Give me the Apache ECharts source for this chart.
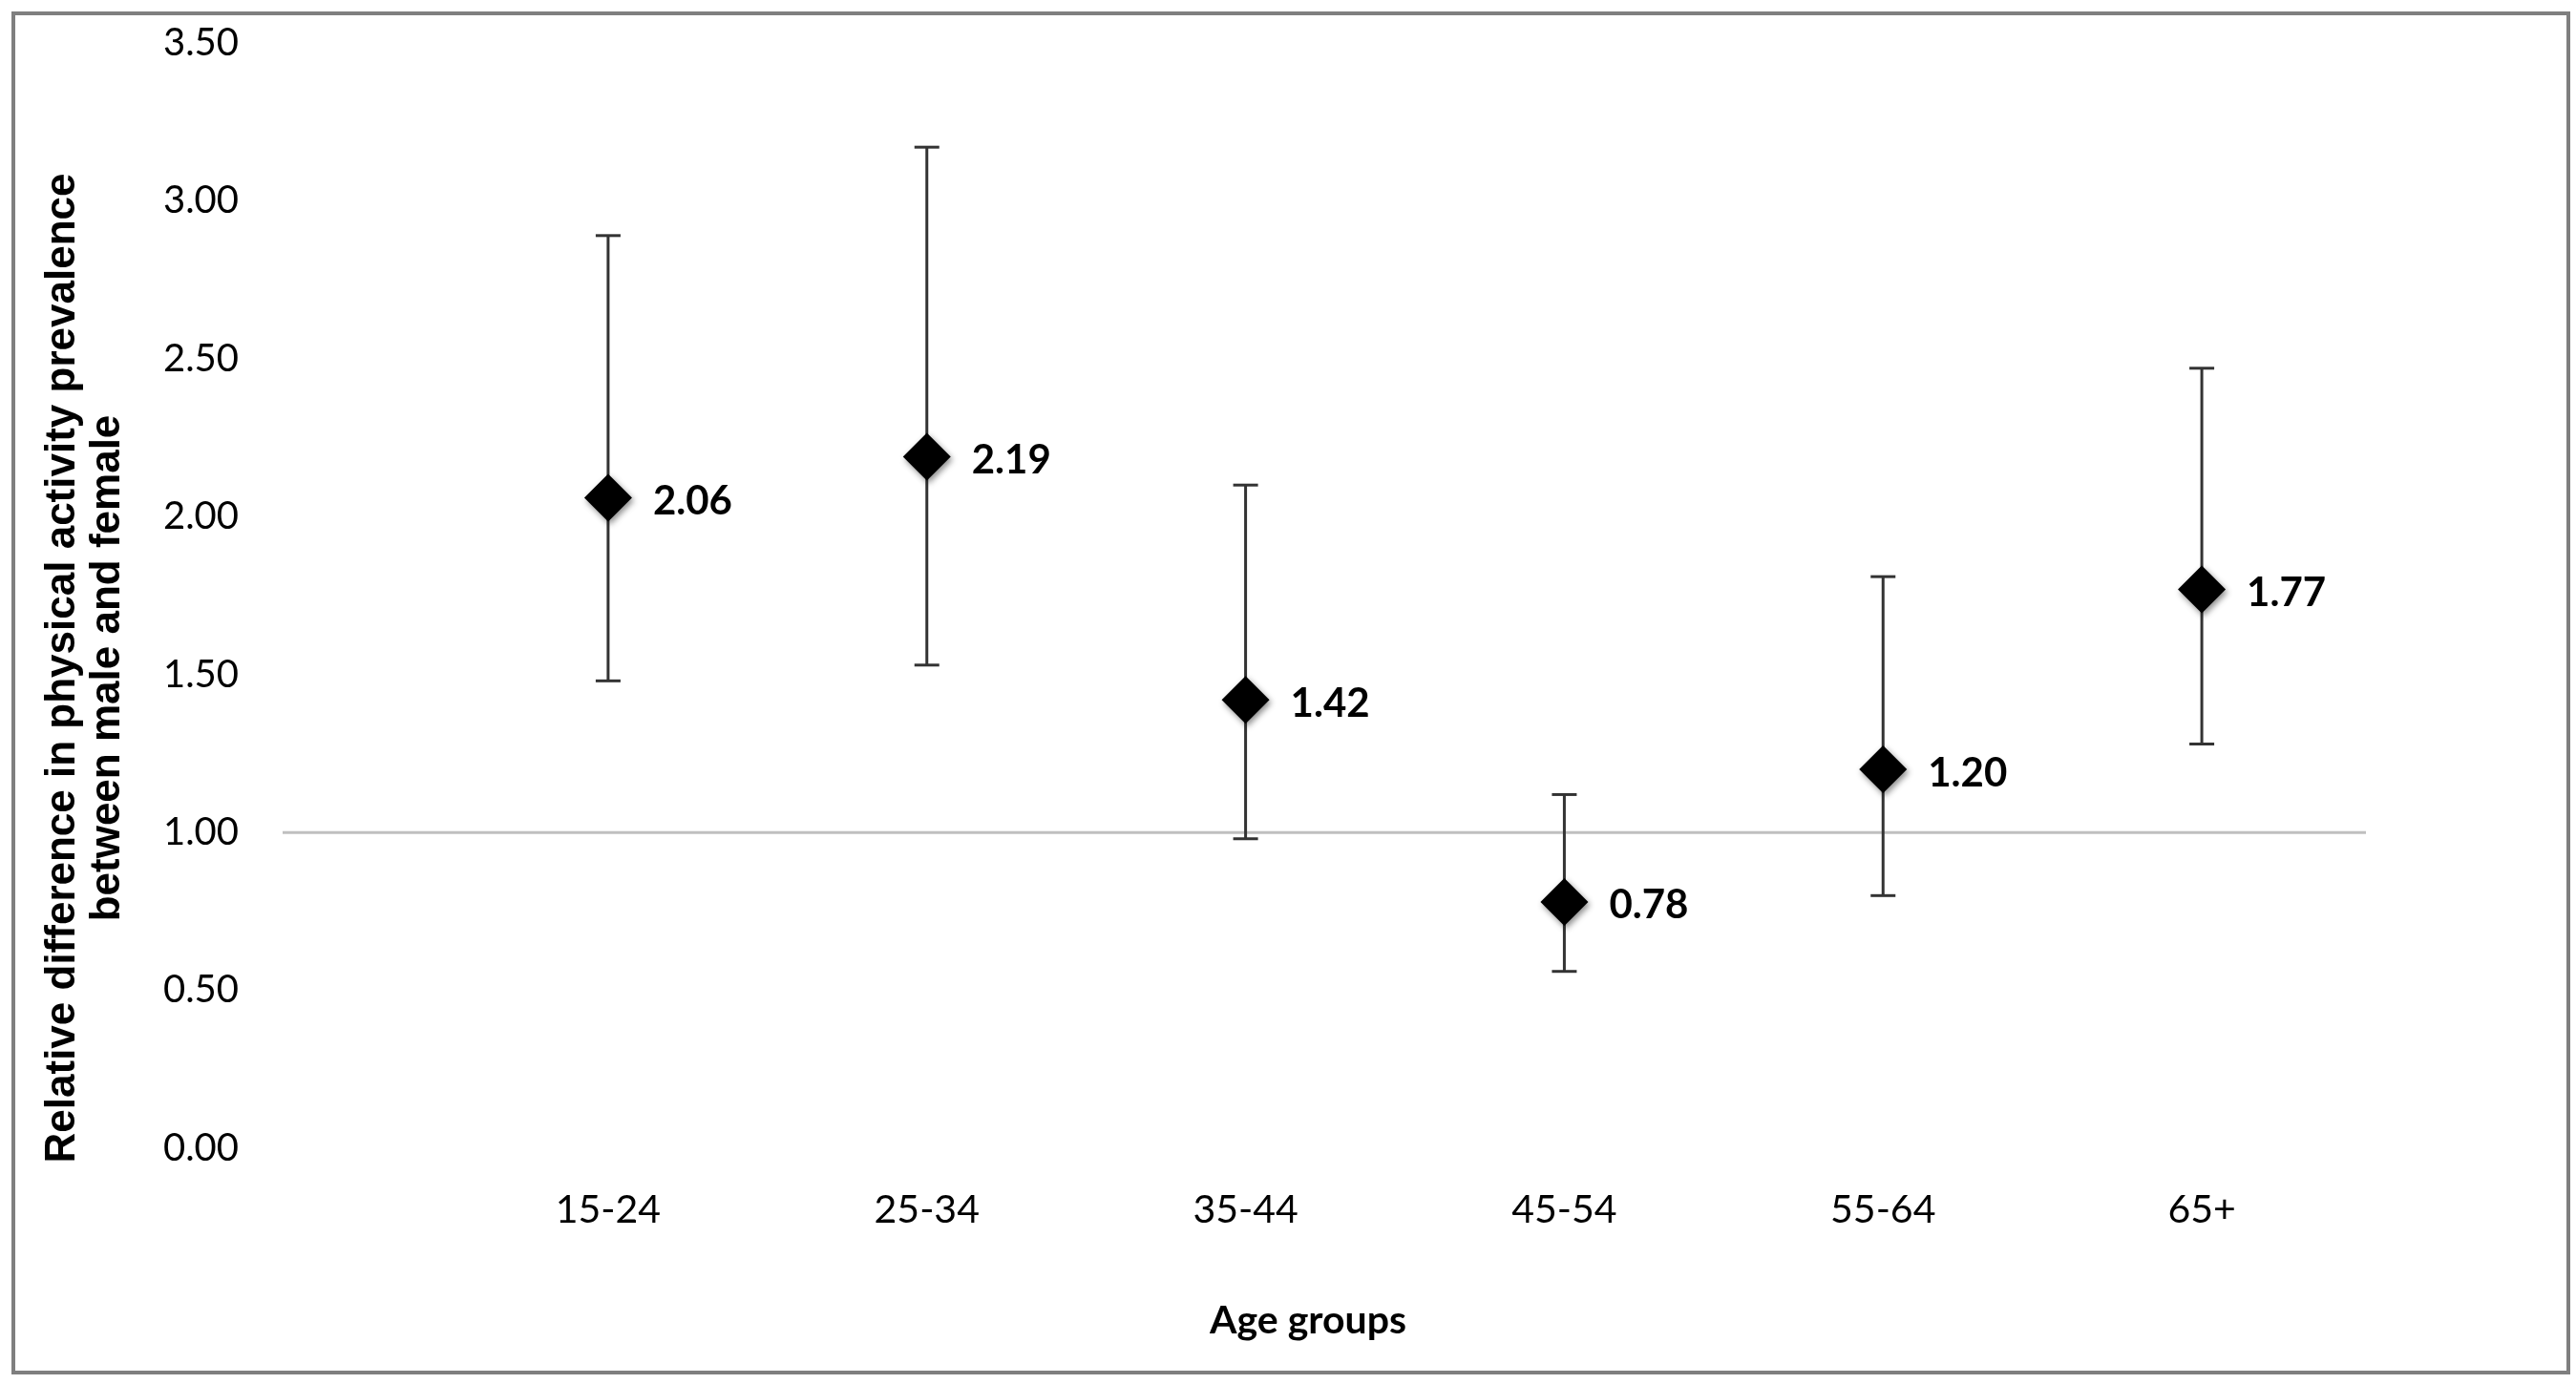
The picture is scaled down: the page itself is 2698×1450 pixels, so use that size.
<!DOCTYPE html>
<html>
<head>
<meta charset="utf-8">
<script src="https://cdn.jsdelivr.net/npm/echarts@6/dist/echarts.min.js"></script>
<style>
    html, body { margin: 0; padding: 0; background: #fff; }
    #main { width: 2698px; height: 1450px; }
</style>
</head>
<body>
<div id="main"></div>
<script>
    // age groups and ratio estimates (male vs female) with 95% CI
    var ageGroups = ['15-24', '25-34', '35-44', '45-54', '55-64', '65+'];
    var ratios = [2.06, 2.19, 1.42, 0.78, 1.20, 1.77];
    var lowerCI = [1.48, 1.53, 0.98, 0.56, 0.80, 1.28];
    var upperCI = [2.89, 3.17, 2.10, 1.12, 1.81, 2.47];
    var refValue = 1;

    var chart = echarts.init(document.getElementById('main'));

    var errorData = ageGroups.map(function (g, i) {
        return [i, lowerCI[i], upperCI[i]];
    });

    var labelFont = 'Lato, "Open Sans", sans-serif';

    var option = {
        backgroundColor: '#fff',
        animation: false,
        graphic: [{
            type: 'rect',
            shape: { x: 14, y: 14, width: 2676, height: 1424 },
            style: { fill: 'none', stroke: '#7f7f7f', lineWidth: 4 },
            silent: true
        }],
        grid: [
            { left: 470, right: 225, top: 45, bottom: 247 },
            { left: 296, right: 220, top: 45, bottom: 247 }
        ],
        xAxis: [
            {
                type: 'category',
                gridIndex: 0,
                data: ageGroups,
                axisLine: { show: false },
                axisTick: { show: false },
                splitLine: { show: false },
                axisLabel: { fontSize: 41, color: '#000', margin: 44, fontFamily: labelFont }
            },
            {
                type: 'value',
                gridIndex: 1,
                min: 0,
                max: 1,
                axisLine: { show: false },
                axisTick: { show: false },
                splitLine: { show: false },
                axisLabel: { show: false },
                name: 'Age groups',
                nameLocation: 'middle',
                nameGap: 160,
                nameTextStyle: {
                    fontSize: 41, fontWeight: 'bold', color: '#000', fontFamily: labelFont,
                    padding: [0, 34, 0, 0]
                }
            }
        ],
        yAxis: [
            {
                type: 'value',
                gridIndex: 1,
                min: 0,
                max: 3.5,
                interval: 0.5,
                axisLine: { show: false },
                axisTick: { show: false },
                splitLine: { show: false },
                axisLabel: {
                    fontSize: 40, color: '#000', margin: 46, fontFamily: labelFont,
                    formatter: function (v) { return v.toFixed(2); }
                },
                name: 'Relative difference in physical activity prevalence\nbetween male and female',
                nameLocation: 'middle',
                nameRotate: 90,
                nameGap: 160,
                nameTextStyle: {
                    fontSize: 44, fontWeight: 'bold', color: '#000',
                    fontFamily: '"Liberation Sans", Arial, sans-serif',
                    lineHeight: 47,
                    align: 'center',
                    padding: [0, 152, 0, 0]
                }
            },
            {
                type: 'value',
                gridIndex: 0,
                min: 0,
                max: 3.5,
                interval: 0.5,
                show: false
            }
        ],
        series: [
            {
                name: 'reference',
                type: 'line',
                xAxisIndex: 1,
                yAxisIndex: 0,
                data: [[0, refValue], [1, refValue]],
                symbol: 'none',
                silent: true,
                lineStyle: { color: '#bfbfbf', width: 3 },
                z: 1
            },
            {
                name: 'CI',
                type: 'custom',
                xAxisIndex: 0,
                yAxisIndex: 1,
                data: errorData,
                renderItem: function (params, api) {
                    var lo = api.coord([api.value(0), api.value(1)]);
                    var hi = api.coord([api.value(0), api.value(2)]);
                    var half = 13;
                    var style = { stroke: '#333', lineWidth: 3 };
                    return {
                        type: 'group',
                        children: [
                            { type: 'line', shape: { x1: lo[0], y1: lo[1], x2: hi[0], y2: hi[1] }, style: style },
                            { type: 'line', shape: { x1: hi[0] - half, y1: hi[1], x2: hi[0] + half, y2: hi[1] }, style: style },
                            { type: 'line', shape: { x1: lo[0] - half, y1: lo[1], x2: lo[0] + half, y2: lo[1] }, style: style }
                        ]
                    };
                },
                z: 2
            },
            {
                name: 'ratio',
                type: 'scatter',
                xAxisIndex: 0,
                yAxisIndex: 1,
                data: ratios,
                symbol: 'diamond',
                symbolSize: 50,
                itemStyle: {
                    color: '#000',
                    opacity: 1,
                    shadowBlur: 6,
                    shadowColor: 'rgba(0,0,0,0.45)',
                    shadowOffsetX: 2,
                    shadowOffsetY: 3
                },
                label: {
                    show: true,
                    position: 'right',
                    distance: 22,
                    fontSize: 42,
                    fontWeight: 'bold',
                    color: '#000',
                    fontFamily: labelFont,
                    offset: [0, 4],
                    formatter: function (p) { return p.value.toFixed(2); }
                },
                z: 3
            }
        ]
    };

    chart.setOption(option);
</script>
</body>
</html>
